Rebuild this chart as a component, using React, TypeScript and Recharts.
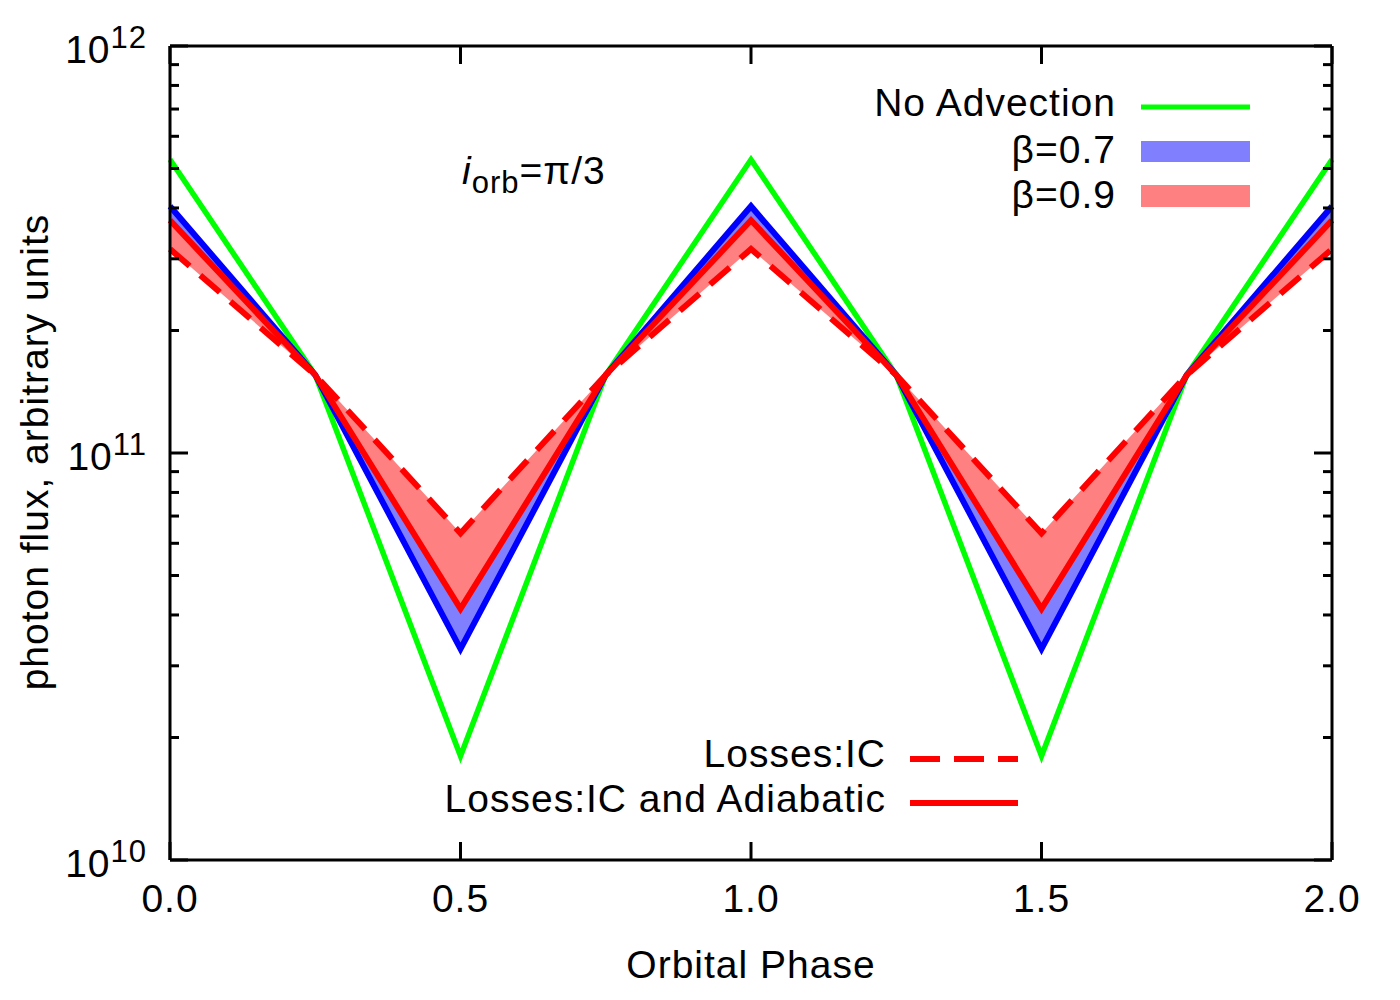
import React from 'react';
import { ComposedChart, Line, Area, XAxis, YAxis } from 'recharts';

// orbital phase grid (vertices of the light curves)
const phases = [0, 0.25, 0.5, 0.75, 1, 1.25, 1.5, 1.75, 2];

// photon flux, arbitrary units
const noAdvection = [5.26e11, 1.555e11, 1.8e10, 1.555e11, 5.26e11, 1.555e11, 1.8e10, 1.555e11, 5.26e11];
const beta07Adiabatic = [4.04e11, 1.555e11, 3.3e10, 1.555e11, 4.04e11, 1.555e11, 3.3e10, 1.555e11, 4.04e11];
const beta07IC = [3.4e11, 1.555e11, 6.0e10, 1.555e11, 3.4e11, 1.555e11, 6.0e10, 1.555e11, 3.4e11];
const beta09Adiabatic = [3.73e11, 1.555e11, 4.14e10, 1.555e11, 3.73e11, 1.555e11, 4.14e10, 1.555e11, 3.73e11];
const beta09IC = [3.17e11, 1.555e11, 6.35e10, 1.555e11, 3.17e11, 1.555e11, 6.35e10, 1.555e11, 3.17e11];

const xTicks = [0, 0.5, 1, 1.5, 2];
const yTicks = [
  1e10, 2e10, 3e10, 4e10, 5e10, 6e10, 7e10, 8e10, 9e10,
  1e11, 2e11, 3e11, 4e11, 5e11, 6e11, 7e11, 8e11, 9e11,
  1e12,
];

const data = phases.map((phase, i) => ({
  phase,
  green: noAdvection[i],
  b7a: beta07Adiabatic[i],
  b9a: beta09Adiabatic[i],
  b9ic: beta09IC[i],
  band7: [beta07IC[i], beta07Adiabatic[i]],
  band9: [beta09IC[i], beta09Adiabatic[i]],
}));

const FONT = '"Liberation Sans", Arial, Helvetica, sans-serif';
const FS = 39;
const LS = 1;

const isDecade = (v: number) => Math.abs(Math.log10(v) - Math.round(Math.log10(v))) < 1e-6;

const BottomTick = (props: any) => {
  const { x, y, payload } = props;
  return (
    <g>
      <line x1={x} x2={x} y1={y} y2={y - 18} stroke="#000" strokeWidth={3} />
      <text x={x} y={y + 52} textAnchor="middle" fontSize={FS} letterSpacing={LS} fontFamily={FONT} fill="#000">
        {payload.value.toFixed(1)}
      </text>
    </g>
  );
};

const TopTick = (props: any) => {
  const { x, y } = props;
  return <line x1={x} x2={x} y1={y} y2={y + 18} stroke="#000" strokeWidth={3} />;
};

const LeftTick = (props: any) => {
  const { x, y, payload } = props;
  const v = payload.value as number;
  const major = isDecade(v);
  return (
    <g>
      <line x1={x} x2={x + (major ? 18 : 9)} y1={y} y2={y} stroke="#000" strokeWidth={3} />
      {major && (
        <text x={x - 23} y={y + 17} textAnchor="end" fontSize={FS} letterSpacing={LS} fontFamily={FONT} fill="#000">
          10<tspan dy={-15} fontSize={31}>{Math.round(Math.log10(v))}</tspan>
        </text>
      )}
    </g>
  );
};

const RightTick = (props: any) => {
  const { x, y, payload } = props;
  const major = isDecade(payload.value);
  return <line x1={x} x2={x - (major ? 18 : 9)} y1={y} y2={y} stroke="#000" strokeWidth={3} />;
};

export default function App() {
  return (
    <div style={{ position: 'absolute', left: 0, top: 0, width: 1400, height: 1000, background: '#fff' }}>
      <ComposedChart
        width={1400}
        height={1000}
        data={data}
        margin={{ top: 26, right: 48, bottom: 100, left: 130 }}
      >
        <XAxis
          xAxisId="bottom"
          dataKey="phase"
          type="number"
          domain={[0, 2]}
          ticks={xTicks}
          interval={0}
          height={40}
          tickSize={0}
          tickMargin={0}
          tickLine={false}
          axisLine={{ stroke: '#000', strokeWidth: 3 }}
          tick={BottomTick}
        />
        <XAxis
          xAxisId="top"
          orientation="top"
          dataKey="phase"
          type="number"
          domain={[0, 2]}
          ticks={xTicks}
          interval={0}
          height={20}
          tickSize={0}
          tickMargin={0}
          tickLine={false}
          axisLine={{ stroke: '#000', strokeWidth: 3 }}
          tick={TopTick}
        />
        <YAxis
          yAxisId="left"
          scale="log"
          domain={[1e10, 1e12]}
          allowDataOverflow
          ticks={yTicks}
          interval={0}
          width={40}
          tickSize={0}
          tickMargin={0}
          tickLine={false}
          axisLine={{ stroke: '#000', strokeWidth: 3 }}
          tick={LeftTick}
        />
        <YAxis
          yAxisId="right"
          orientation="right"
          scale="log"
          domain={[1e10, 1e12]}
          allowDataOverflow
          ticks={yTicks}
          interval={0}
          width={20}
          tickSize={0}
          tickMargin={0}
          tickLine={false}
          axisLine={{ stroke: '#000', strokeWidth: 3 }}
          tick={RightTick}
        />
        <Area
          xAxisId="bottom"
          yAxisId="left"
          type="linear"
          dataKey="band7"
          stroke="none"
          fill="#8080ff"
          fillOpacity={1}
          isAnimationActive={false}
        />
        <Area
          xAxisId="bottom"
          yAxisId="left"
          type="linear"
          dataKey="band9"
          stroke="none"
          fill="#ff8080"
          fillOpacity={1}
          isAnimationActive={false}
        />
        <Line
          xAxisId="bottom"
          yAxisId="left"
          type="linear"
          dataKey="green"
          stroke="#00ff00"
          strokeWidth={5.5}
          strokeLinejoin="miter"
          dot={false}
          isAnimationActive={false}
        />
        <Line
          xAxisId="bottom"
          yAxisId="left"
          type="linear"
          dataKey="b7a"
          stroke="#0000ff"
          strokeWidth={6}
          strokeLinejoin="miter"
          dot={false}
          isAnimationActive={false}
        />
        <Line
          xAxisId="bottom"
          yAxisId="left"
          type="linear"
          dataKey="b9a"
          stroke="#ff0000"
          strokeWidth={6}
          strokeLinejoin="miter"
          dot={false}
          isAnimationActive={false}
        />
        <Line
          xAxisId="bottom"
          yAxisId="left"
          type="linear"
          dataKey="b9ic"
          stroke="#ff0000"
          strokeWidth={6}
          strokeDasharray="26 14"
          strokeLinejoin="miter"
          dot={false}
          isAnimationActive={false}
        />
      </ComposedChart>

      {/* legends, labels, annotation */}
      <svg
        width={1400}
        height={1000}
        style={{ position: 'absolute', left: 0, top: 0, pointerEvents: 'none' }}
        fontFamily={FONT}
        fontSize={FS}
        letterSpacing={LS}
        fill="#000"
      >
        <text x={34} y={452} textAnchor="middle" dominantBaseline="central" transform="rotate(-90 34 452)">
          photon flux, arbitrary units
        </text>
        <text x={751} y={978} textAnchor="middle">Orbital Phase</text>

        <text x={462} y={184}>
          <tspan fontStyle="italic">i</tspan>
          <tspan fontSize={31} dy={9}>orb</tspan>
          <tspan dy={-9}>=π/3</tspan>
        </text>

        <text x={1116} y={116} textAnchor="end">No Advection</text>
        <line x1={1141} x2={1250} y1={107} y2={107} stroke="#00ff00" strokeWidth={5} />
        <text x={1116} y={163} textAnchor="end">β=0.7</text>
        <rect x={1141} y={141} width={109} height={21} fill="#8080ff" />
        <text x={1116} y={208} textAnchor="end">β=0.9</text>
        <rect x={1141} y={185} width={109} height={22} fill="#ff8080" />

        <text x={886} y={767} textAnchor="end">Losses:IC</text>
        <line x1={910} x2={1018} y1={759} y2={759} stroke="#ff0000" strokeWidth={6} strokeDasharray="30 14" />
        <text x={886} y={812} textAnchor="end">Losses:IC and Adiabatic</text>
        <line x1={910} x2={1018} y1={803} y2={803} stroke="#ff0000" strokeWidth={6} />
      </svg>
    </div>
  );
}
